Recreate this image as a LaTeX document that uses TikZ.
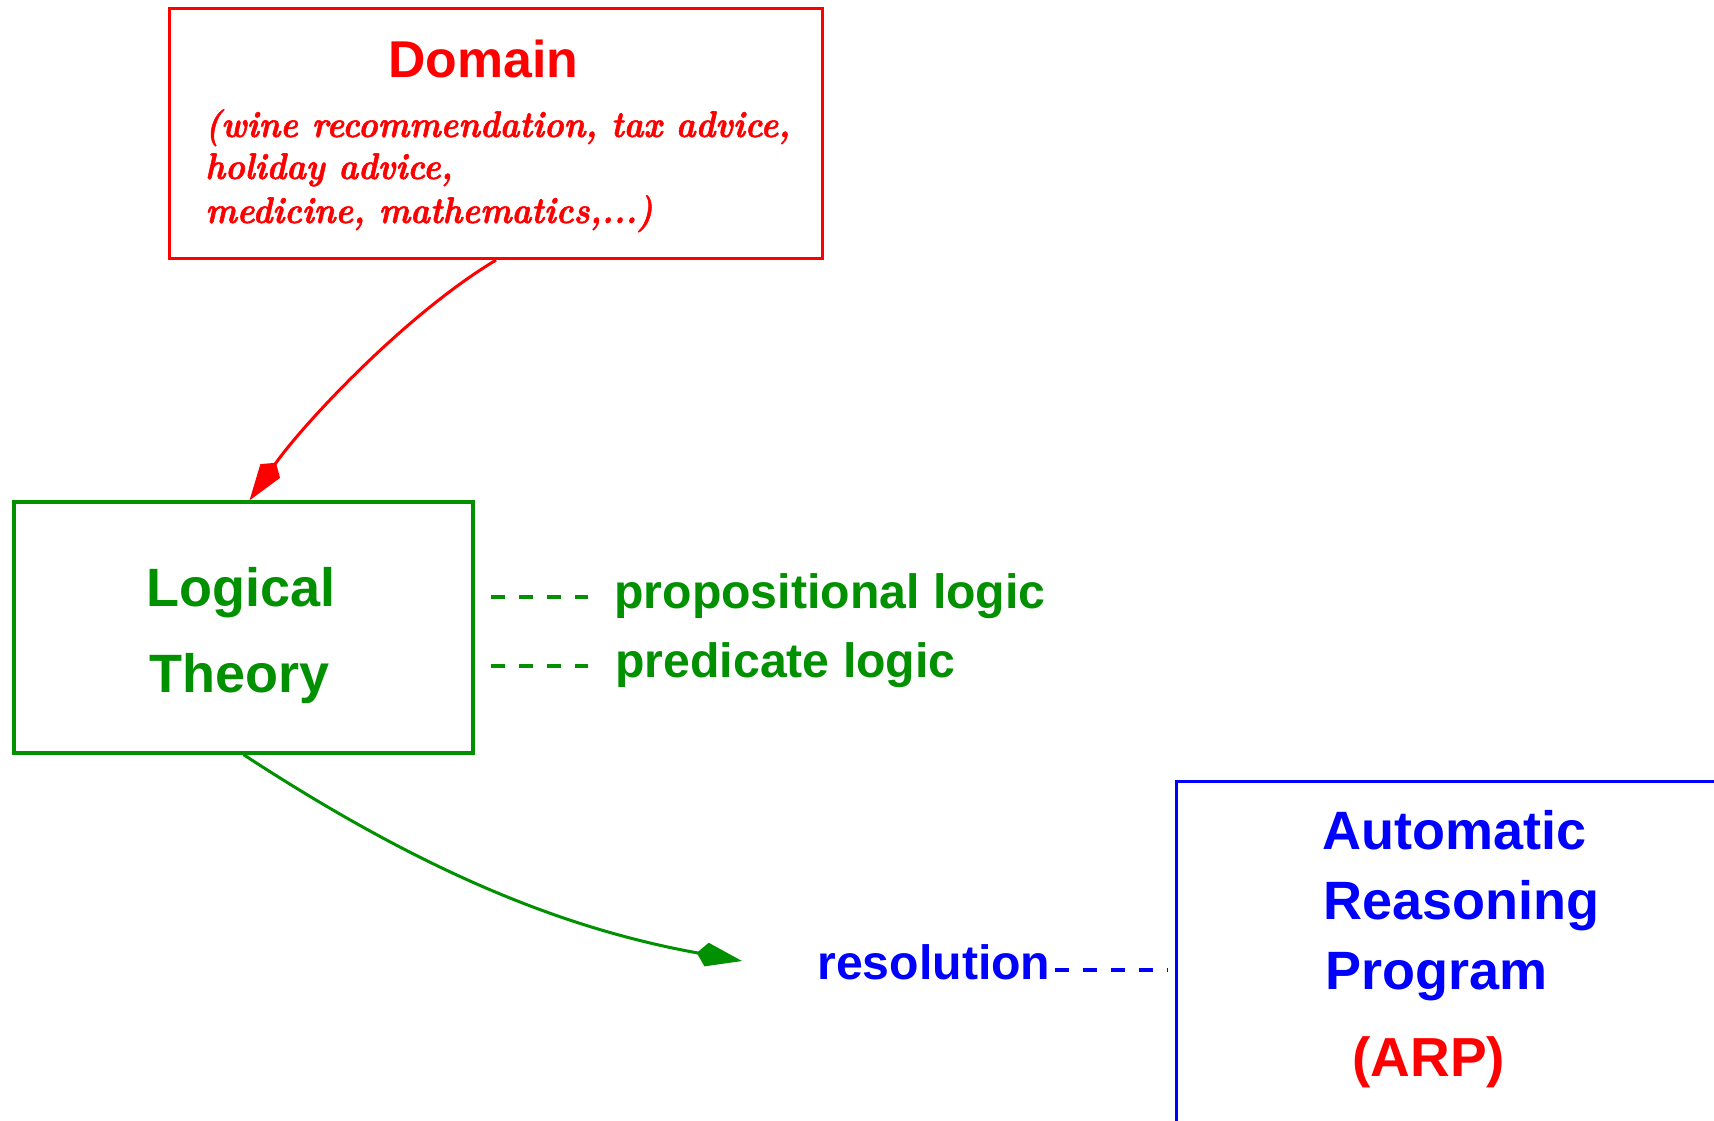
\documentclass[tikz,border=0pt]{standalone}
\usepackage{fontspec}
\newfontfamily\helv{Liberation Sans}
\newfontfamily\notefont{lmroman10-bolditalic.otf}[FakeBold=1.6]
\usetikzlibrary{arrows.meta}
\definecolor{figred}{RGB}{255,0,0}
\definecolor{figgreen}{RGB}{0,144,0}
\definecolor{figblue}{RGB}{0,0,255}
\newcommand{\noteline}[1]{\scalebox{0.9}[1]{#1}}

\begin{document}
\begin{tikzpicture}[x=0.5pt,y=-0.5pt,
  frame/.style={draw, line width=1.6pt, inner sep=0pt},
  big/.style={inner sep=0pt, anchor=base west,
    font=\helv\bfseries\fontsize{27}{30}\selectfont},
  mid/.style={inner sep=0pt, anchor=base west,
    font=\helv\bfseries\fontsize{24.1}{28}\selectfont},
  note/.style={inner sep=0pt, anchor=base west,
    font=\notefont\fontsize{18.5}{21}\selectfont},
  link/.style={line width=1.5pt},
  kite/.style={-{Kite[length=23pt,width=12pt,inset=5pt]}},
  dashline/.style={line width=1.6pt, dash pattern=on 7pt off 7pt}]

\useasboundingbox (0,0) rectangle (1714,1120);
\clip (0,0) rectangle (1714,1120);

% ---- Domain box ----
\node[frame, figred, minimum width=326.5pt, minimum height=125pt] (dom) at (496,133.5) {};
\node[big, figred, font=\helv\bfseries\fontsize{25.9}{30}\selectfont] (domt) at (388,77) {Domain};
\node[note, figred] (dom1) at (205,137) {\noteline{(wine recommendation, tax advice,}};
\node[note, figred] (dom2) at (205,179) {\noteline{holiday advice,}};
\node[note, figred] (dom3) at (205,223) {\noteline{medicine, mathematics,...)}};

% ---- Logical theory box ----
\node[frame, figgreen, minimum width=229.5pt, minimum height=125.5pt] (log) at (243.5,627.5) {};
\node[big, figgreen] (logt1) at (146,606) {Logical};
\node[big, figgreen] (logt2) at (149,692) {Theory};

% side notes on the logics
\coordinate (pa) at (491,597);
\coordinate (pb) at (588,597);
\coordinate (qa) at (491,666);
\coordinate (qb) at (588,666);
\draw[dashline, figgreen] (pa) -- (pb);
\draw[dashline, figgreen] (qa) -- (qb);
\node[mid, figgreen] (prop) at (614,608) {propositional logic};
\node[mid, figgreen] (pred) at (615,677) {predicate logic};

% ---- ARP box ----
\node[frame, figblue, anchor=north west, minimum width=320pt, minimum height=200pt] (arp) at (1175,780) {};
\node[big, figblue] (arp1) at (1322,849) {Automatic};
\node[big, figblue] (arp2) at (1323,919) {Reasoning};
\node[big, figblue] (arp3) at (1325,989) {Program};
\node[big, figred, font=\helv\bfseries\fontsize{27.5}{30}\selectfont] (arp4) at (1352,1076) {(ARP)};

% resolution label
\node[mid, figblue] (res) at (817,979) {resolution};
\coordinate (ra) at (1055,970);
\coordinate (rb) at (1168,970);
\draw[dashline, figblue] (ra) -- (rb);

% ---- connectors ----
\draw[link, kite, figred] (dom.south) .. controls (406,314) and (304,423) .. ([xshift=3pt]log.north);
\coordinate (gtip) at (742,961);
\draw[link, kite, figgreen] (log.south) .. controls (420,870) and (560,928) .. (gtip);

\end{tikzpicture}
\end{document}
